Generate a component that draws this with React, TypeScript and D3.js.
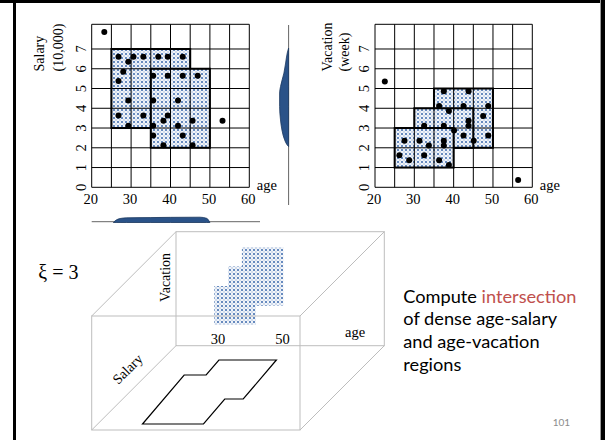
import React from "react";
import * as d3 from "d3";

// ---------- data ----------
const gridAges = d3.range(20, 61, 5);
const ageTicks = [20, 30, 40, 50, 60];
const yTicks = [0, 1, 2, 3, 4, 5, 6, 7];
const yTop = 8.25;

const salaryPoints: [number, number][] = [
  [23.2, 7.86], [26.8, 6.61], [29.3, 6.36], [30.6, 6.61], [33.1, 6.61], [36.9, 6.61], [39.3, 6.61], [43.1, 6.61],
  [28.0, 5.85], [26.8, 5.38], [35.6, 5.64], [39.3, 5.64], [43.1, 5.64], [46.9, 5.64],
  [29.3, 4.39], [35.6, 4.39], [41.9, 4.39],
  [26.8, 3.63], [33.1, 3.63], [39.3, 3.63], [38.2, 3.37], [29.3, 3.12], [35.6, 3.12], [41.9, 3.12],
  [45.6, 3.37], [53.2, 3.37], [35.6, 2.62], [43.1, 2.62], [38.2, 2.13], [45.6, 2.13],
];

const vacationPoints: [number, number][] = [
  [22.5, 5.35], [26.2, 1.62], [27.5, 2.36], [28.7, 1.37], [31.3, 2.36], [32.5, 1.62], [32.5, 3.12],
  [33.7, 2.11], [36.3, 1.37], [38.8, 1.13], [37.5, 2.36], [37.5, 2.11], [37.5, 3.12], [38.8, 3.86],
  [36.3, 4.12], [37.5, 4.86], [40.1, 2.87], [42.5, 2.62], [42.5, 4.12], [43.8, 4.86], [43.8, 3.37],
  [43.8, 3.12], [45.1, 2.36], [47.5, 3.61], [48.8, 4.12], [48.8, 2.62], [56.4, 0.37],
];

// dense regions: [age0, age1, v0, v1]
const salaryRegions: [number, number, number, number][] = [
  [25, 45, 3, 7],
  [35, 50, 2, 6],
];
const vacationRegions: [number, number, number, number][] = [
  [35, 50, 2, 5],
  [30, 45, 2, 4],
  [25, 40, 1, 3],
];

// marginal densities (value, relative density)
const salaryDensity: [number, number][] = [
  [7.05, 0], [6.8, 0.15], [6.29, 0.33], [5.78, 0.52], [5.1, 0.9], [4.77, 1], [4.09, 1],
  [3.41, 0.9], [2.9, 0.74], [2.4, 0.44], [2.15, 0.17], [2.06, 0],
];
const ageDensity: [number, number][] = [
  [25.5, 0], [26.2, 0.45], [27.2, 0.75], [28.9, 0.88], [35, 0.93], [40, 0.97], [47.5, 1], [49.2, 0.78], [50.0, 0],
];

// floor (age-salary) region outline: union of the salary dense regions
const floorRegion: [number, number][] = [
  [25, 7], [45, 7], [45, 6], [50, 6], [50, 2], [35, 2], [35, 3], [25, 3],
];
const axis3dLabels = [30, 50];

const textLines = ["of dense age-salary", "and age-vacation", "regions"];

// ---------- helpers ----------
const SERIF = "'Liberation Serif', 'Times New Roman', serif";
const SANS = "Lato, 'Open Sans', sans-serif";

const yS = d3.scaleLinear().domain([0, yTop]).range([187.3, 24.3]);

function Panel({
  xs, points, regions, labels, labelXs,
}: {
  xs: d3.ScaleLinear<number, number>;
  points: [number, number][];
  regions: [number, number, number, number][];
  labels: string[];
  labelXs: number[];
}) {
  const x0 = xs(20), x1 = xs(60);
  const rectOf = (r: [number, number, number, number]) => ({
    x: xs(r[0]), y: yS(r[3]), width: xs(r[1]) - xs(r[0]), height: yS(r[2]) - yS(r[3]),
  });
  return (
    <g>
      {regions.map((r, i) => (
        <g key={"r" + i}>
          <rect {...rectOf(r)} fill="url(#dots)" />
          <rect {...rectOf(r)} fill="none" stroke="#000" strokeWidth={2} />
        </g>
      ))}
      {gridAges.map((a) => (
        <line key={"v" + a} x1={xs(a)} x2={xs(a)} y1={yS(0)} y2={yS(yTop)} stroke="#000" strokeWidth={1} />
      ))}
      {[...yTicks, yTop].map((v) => (
        <line key={"h" + v} x1={x0} x2={x1} y1={yS(v)} y2={yS(v)} stroke="#000" strokeWidth={1} />
      ))}
      {points.map((p, i) => (
        <circle key={"p" + i} cx={xs(p[0])} cy={yS(p[1])} r={3} fill="#000" />
      ))}
      {ageTicks.map((a) => (
        <text key={"xt" + a} x={xs(a) - 1} y={204} textAnchor="middle" fontFamily={SERIF} fontSize={14.5}>{a}</text>
      ))}
      {yTicks.map((v) => (
        <text key={"yt" + v} transform={`translate(${x0 - 5.7},${yS(v)}) rotate(-90)`} textAnchor="middle"
          fontFamily={SERIF} fontSize={14.5}>{v}</text>
      ))}
      <text x={x1 + 7.5} y={190} fontFamily={SERIF} fontSize={14.5}>age</text>
      {labels.map((l, i) => (
        <text key={"l" + i} transform={`translate(${labelXs[i]},71.5) rotate(-90)`} fontFamily={SERIF} fontSize={14}>{l}</text>
      ))}
    </g>
  );
}

export default function App() {
  const xL = d3.scaleLinear().domain([20, 60]).range([91.7, 249.3]);
  const xR = d3.scaleLinear().domain([20, 60]).range([375, 532.3]);

  // marginal densities
  const densW = d3.scaleLinear().domain([0, 1]).range([0, 9]);
  const vArea = d3.area<[number, number]>()
    .y((d) => yS(d[0]))
    .x0(288.6)
    .x1((d) => 288.6 - densW(d[1]))
    .curve(d3.curveMonotoneY);
  const densH = d3.scaleLinear().domain([0, 1]).range([0, 5.3]);
  const hArea = d3.area<[number, number]>()
    .x((d) => xL(d[0]))
    .y0(222.5)
    .y1((d) => 222.5 - densH(d[1]))
    .curve(d3.curveMonotoneX);

  // 3D box
  const box = { x0: 91.7, x1: 300, y0: 316, y1: 430, d: 84.3 };
  const boxColor = "#bdbdbd";
  // back-wall block scales (age, vacation)
  const bAge = d3.scaleLinear().domain([25, 50]).range([214.3, 283.3]);
  const bVac = d3.scaleLinear().domain([1, 5]).range([325, 247]);
  const labAge = d3.scaleLinear().domain([30, 50]).range([218, 282.5]);
  // floor projection (age horizontal, salary in depth)
  const fAge = d3.scaleLinear().domain([25, 35, 45, 50]).range([142.5, 164.5, 203.5, 222]);
  const fDepth = d3.scaleLinear().domain([2, 3, 6, 7]).range([64, 49, 25, 0]);
  const shear = 0.85;
  const floorPath = d3.line<[number, number]>()
    .x((d) => fAge(d[0]) + shear * fDepth(d[1]))
    .y((d) => 424 - fDepth(d[1]))
    .curve(d3.curveLinearClosed)(floorRegion) || "";

  return (
    <svg width={605} height={440} style={{ position: "absolute", left: 0, top: 0, background: "#fff" }}>
      <defs>
        <pattern id="dots" width={4} height={4} patternUnits="userSpaceOnUse">
          <rect width={4} height={4} fill="#f2f5fa" />
          <circle cx={0} cy={0} r={0.75} fill="#9db4d6" />
          <circle cx={4} cy={0} r={0.75} fill="#9db4d6" />
          <circle cx={0} cy={4} r={0.75} fill="#9db4d6" />
          <circle cx={4} cy={4} r={0.75} fill="#9db4d6" />
          <circle cx={2} cy={2} r={1.1} fill="#4570b0" />
        </pattern>
      </defs>
      <rect width={605} height={440} fill="#fff" />

      <Panel xs={xL} points={salaryPoints} regions={salaryRegions}
        labels={["Salary", "(10,000)"]} labelXs={[44.3, 62.5]} />
      <Panel xs={xR} points={vacationPoints} regions={vacationRegions}
        labels={["Vacation", "(week)"]} labelXs={[331.7, 349.3]} />

      {/* marginal densities */}
      <line x1={288.6} x2={288.6} y1={25} y2={205} stroke="#666" strokeWidth={1} />
      <path d={vArea(salaryDensity) || ""} fill="#2a5288" stroke="#1c3860" strokeWidth={0.8} />
      <line x1={91.7} x2={260} y1={221.7} y2={221.7} stroke="#666" strokeWidth={1} />
      <path d={hArea(ageDensity) || ""} fill="#2a5288" stroke="#1c3860" strokeWidth={0.8} />

      {/* 3D box */}
      <g stroke={boxColor} strokeWidth={1} fill="none">
        <rect x={box.x0 + box.d} y={box.y0 - box.d} width={box.x1 - box.x0} height={box.y1 - box.y0} />
        <line x1={box.x0} y1={box.y0} x2={box.x0 + box.d} y2={box.y0 - box.d} />
        <line x1={box.x1} y1={box.y0} x2={box.x1 + box.d} y2={box.y0 - box.d} />
        <line x1={box.x0} y1={box.y1} x2={box.x0 + box.d} y2={box.y1 - box.d} />
        <line x1={box.x1} y1={box.y1} x2={box.x1 + box.d} y2={box.y1 - box.d} />
      </g>
      {vacationRegions.map((r, i) => (
        <rect key={"b" + i} x={bAge(r[0])} y={bVac(r[3])} width={bAge(r[1]) - bAge(r[0])}
          height={bVac(r[2]) - bVac(r[3])} fill="url(#dots)" />
      ))}
      <rect x={box.x0} y={box.y0} width={box.x1 - box.x0} height={box.y1 - box.y0} fill="none" stroke={boxColor} strokeWidth={1} />
      <path d={floorPath} fill="none" stroke="#000" strokeWidth={1.2} />

      <text x={38.3} y={279.3} fontFamily={SERIF} fontSize={20}>ξ = 3</text>
      <text transform="translate(169.5,277.4) rotate(-90)" textAnchor="middle" fontFamily={SERIF} fontSize={14}>Vacation</text>
      <text transform="translate(127.5,369) rotate(-45)" textAnchor="middle" dy="0.35em" fontFamily={SERIF} fontSize={14}>Salary</text>
      {axis3dLabels.map((a) => (
        <text key={"a3" + a} x={labAge(a)} y={344} textAnchor="middle" fontFamily={SERIF} fontSize={14.5}>{a}</text>
      ))}
      <text x={345} y={337} fontFamily={SERIF} fontSize={14.5}>age</text>

      {/* right text */}
      <text x={403.3} y={302.7} fontFamily={SANS} fontSize={18.2} fill="#000">
        Compute <tspan fill="#c0504d">intersection</tspan>
      </text>
      {textLines.map((t, i) => (
        <text key={"t" + i} x={403.3} y={325.3 + i * 22.7} fontFamily={SANS} fontSize={18.2} fill="#000">{t}</text>
      ))}
      <text x={552.7} y={426} fontFamily={SANS} fontSize={10} fill="#8c8c8c">101</text>

      {/* slide frame */}
      <rect x={0} y={0} width={605} height={3} fill="#000" />
      <rect x={13} y={0} width={3} height={440} fill="#000" />
      <rect x={600} y={0} width={1} height={440} fill="#9a9a9a" />
      <rect x={601} y={0} width={4} height={440} fill="#000" />
    </svg>
  );
}
